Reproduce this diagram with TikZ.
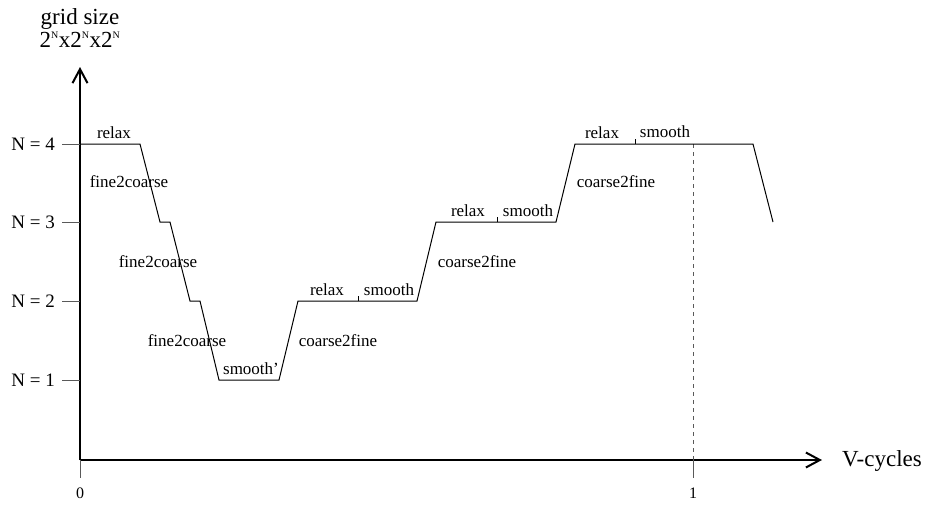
\documentclass[tikz,border=0pt]{standalone}
\usepackage{fontspec}
\setmainfont{Liberation Serif}
\usetikzlibrary{arrows.meta, positioning}

\newcommand{\supN}{\textsuperscript{\fontsize{10}{10}\selectfont N}}

\begin{document}
\begin{tikzpicture}[
    x=1pt, y=-1pt,
    axis/.style={line width=2pt, -{Straight Barb[length=14pt, width=15pt, line width=2pt]}},
    curve/.style={line width=1pt, line join=miter},
    tickline/.style={gray!70!black, line width=1pt},
    steplbl/.style={font=\fontsize{17}{19}\selectfont, inner sep=0pt},
    levellbl/.style={font=\fontsize{19}{21}\selectfont, inner sep=0pt, anchor=east},
    axislbl/.style={font=\fontsize{23}{26}\selectfont, inner sep=0pt}
]
    \useasboundingbox (0,0) rectangle (927,506);

    % Axes
    \coordinate (origin) at (80,460);
    \coordinate (ytip) at (80,67);
    \coordinate (xtip) at (822,460);
    \coordinate (one) at (693,460);
    \draw[axis] (origin) -- (ytip);
    \draw[axis] (origin) -- (xtip);
    \node[axislbl, align=center] (ylbl) at (80,28) {grid size\\[-3pt]2\supN x2\supN x2\supN};
    \node[axislbl, anchor=west] (xlbl) at (842,461) {V-cycles};

    % Ticks on the V-cycles axis
    \node[font=\fontsize{16}{18}\selectfont, inner sep=0pt] (zero) at (80,493) {0};
    \node[font=\fontsize{16}{18}\selectfont, inner sep=0pt] (onelbl) at (693,493) {1};
    \draw[tickline] (origin) -- ++(0,18);
    \draw[tickline] (one) -- ++(0,18);
    \draw[tickline, dashed, dash pattern=on 4pt off 4pt] (693,144) -- (one);

    % Levels
    \foreach \n/\y in {4/144, 3/222, 2/301, 1/380} {
        \node[levellbl] (lv\n) at (55,\y) {N = \n};
        \draw[tickline] (62,\y) -- (80,\y);
    }

    % Curve
    \coordinate (p1) at (80,144);
    \coordinate (p2) at (140,144);
    \coordinate (p3) at (160,222);
    \coordinate (p4) at (170,222);
    \coordinate (p5) at (190,301);
    \coordinate (p6) at (200,301);
    \coordinate (p7) at (219,380);
    \coordinate (p8) at (279,380);
    \coordinate (p9) at (298,301);
    \coordinate (p10) at (417,301);
    \coordinate (p11) at (436,222);
    \coordinate (p12) at (556,222);
    \coordinate (p13) at (575,144);
    \coordinate (p14) at (753,144);
    \coordinate (p15) at (773,222);
    \draw[curve] (p1) -- (p2) -- (p3) -- (p4) -- (p5) -- (p6) -- (p7) -- (p8)
        -- (p9) -- (p10) -- (p11) -- (p12) -- (p13) -- (p14) -- (p15);

    % Small marks between relax and smooth
    \draw[curve] (358,301) -- ++(0,-5);
    \draw[curve] (497,222) -- ++(0,-5);
    \draw[curve] (635,144) -- ++(0,-5);

    % Step labels
    \node[steplbl] (relaxa) at (114,133) {relax};
    \node[steplbl] (fca) at (129,182) {fine2coarse};
    \node[steplbl] (fcb) at (158,262) {fine2coarse};
    \node[steplbl] (fcc) at (187,341) {fine2coarse};
    \node[steplbl] (smoothp) at (251,369) {smooth'};
    \node[steplbl] (cfa) at (338,341) {coarse2fine};
    \node[steplbl] (relaxb) at (327,290) {relax};
    \node[steplbl] (smoothb) at (389,290) {smooth};
    \node[steplbl] (cfb) at (477,262) {coarse2fine};
    \node[steplbl] (relaxc) at (468,211) {relax};
    \node[steplbl] (smoothc) at (528,211) {smooth};
    \node[steplbl] (cfc) at (616,182) {coarse2fine};
    \node[steplbl] (relaxd) at (602,133) {relax};
    \node[steplbl] (smoothd) at (665,132) {smooth};
\end{tikzpicture}
\end{document}
